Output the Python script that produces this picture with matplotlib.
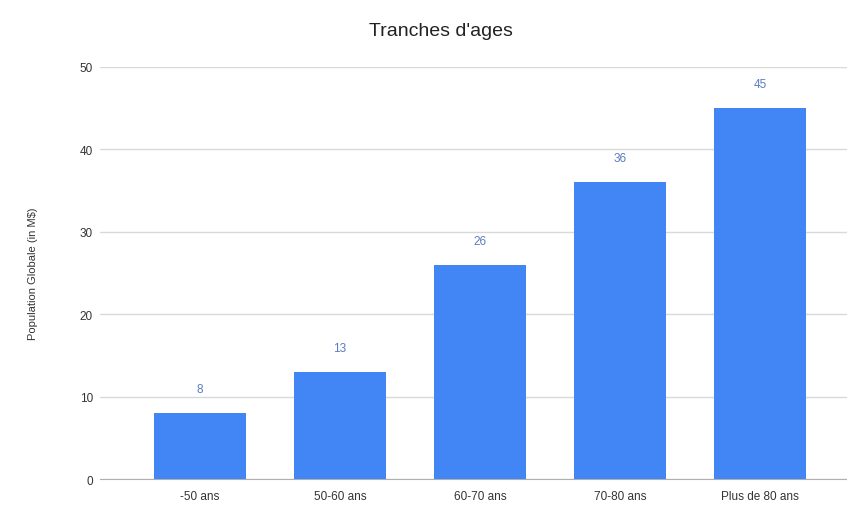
import matplotlib.pyplot as plt

# Data
categories = ['-50 ans', '50-60 ans', '60-70 ans', '70-80 ans', 'Plus de 80 ans']
values = [8, 13, 26, 36, 45]
yticks = [0, 10, 20, 30, 40, 50]

plt.rcParams['font.family'] = ['Liberation Sans', 'DejaVu Sans']

fig = plt.figure(figsize=(8.47, 5.06), dpi=100)
ax = fig.add_axes([0.118, 0.051, 0.882, 0.815])

x = range(len(categories))
bars = ax.bar(x, values, width=0.66, color='#4285f4', zorder=3)

for xi, v in zip(x, values):
    ax.text(xi, v + 2.2, str(v), ha='center', va='bottom', fontsize=8.5, color='#5a7cc0')

ax.set_xlim(-0.714, 4.62)
ax.set_ylim(0, 50)
ax.set_yticks(yticks)
ax.set_xticks(list(x))
ax.set_xticklabels(categories, fontsize=8.5, color='#333333')
ax.tick_params(axis='y', labelsize=8.5, colors='#333333', length=0, pad=5)
ax.tick_params(axis='x', length=0, pad=8)
ax.grid(axis='y', color='#d9d9d9', linewidth=1, zorder=0)
for side in ['top', 'right', 'left']:
    ax.spines[side].set_visible(False)
ax.spines['bottom'].set_color('#b0b0b0')

ax.set_ylabel('Population Globale (in M$)', fontsize=8, color='#333333', labelpad=30)
fig.suptitle("Tranches d'ages", fontsize=14, color='#222222', x=0.52, y=0.955)

fig.savefig('out.png', dpi=100)
